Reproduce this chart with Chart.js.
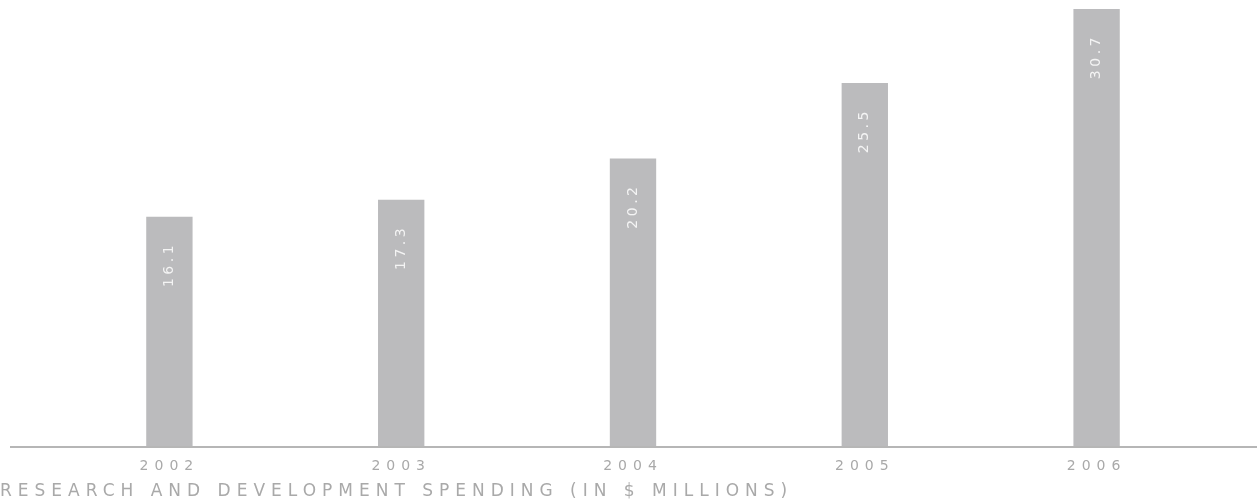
<!DOCTYPE html>
<html>
<head>
<meta charset="utf-8">
<script src="https://cdn.jsdelivr.net/npm/chart.js@4/dist/chart.umd.min.js"></script>
<style>
    html, body { margin: 0; padding: 0; background: #fff; }
    #wrap { width: 1259px; height: 504px; position: relative; }
</style>
</head>
<body>
<div id="wrap"><canvas id="rdChart"></canvas></div>
<script>
// Gastos em I&D por ano (milhões de $)
const years = ['2002', '2003', '2004', '2005', '2006'];
const spending = [16.1, 17.3, 20.2, 25.5, 30.7];
const chartTitle = 'RESEARCH AND DEVELOPMENT SPENDING (IN $ MILLIONS)';

const barColor = '#bbbbbd';
const textColor = '#a9a9a9';

// Espaçamento entre letras para todo o texto do canvas
const spacingPlugin = {
    id: 'spacing',
    beforeDraw(chart) {
        chart.ctx.letterSpacing = '6px';
    }
};

// Linha de base que atravessa quase toda a largura
const baselinePlugin = {
    id: 'baseline',
    afterDatasetsDraw(chart) {
        const ctx = chart.ctx;
        const y = chart.scales.y.getPixelForValue(0);
        ctx.save();
        ctx.strokeStyle = '#b6b6b6';
        ctx.lineWidth = 2;
        ctx.beginPath();
        ctx.moveTo(10, y + 1);
        ctx.lineTo(1257, y + 1);
        ctx.stroke();
        ctx.restore();
    }
};

// Valores escritos na vertical dentro de cada barra
const valueLabels = {
    id: 'valueLabels',
    afterDatasetsDraw(chart) {
        const ctx = chart.ctx;
        const meta = chart.getDatasetMeta(0);
        ctx.save();
        ctx.letterSpacing = '3.5px';
        ctx.fillStyle = '#f4f4f4';
        ctx.font = '14px "DejaVu Sans"';
        ctx.textAlign = 'right';
        ctx.textBaseline = 'middle';
        meta.data.forEach((bar, i) => {
            ctx.save();
            ctx.translate(bar.x, bar.y + 25);
            ctx.rotate(-Math.PI / 2);
            ctx.fillText(spending[i].toFixed(1), 0, 0);
            ctx.restore();
        });
        ctx.restore();
    }
};

new Chart(document.getElementById('rdChart'), {
    type: 'bar',
    data: {
        labels: years,
        datasets: [{
            data: spending,
            backgroundColor: barColor,
            barPercentage: 0.2,
            categoryPercentage: 1
        }]
    },
    options: {
        responsive: true,
        maintainAspectRatio: false,
        animation: false,
        layout: { padding: { top: 9, right: 46.5, bottom: 0, left: 0 } },
        plugins: {
            legend: { display: false },
            tooltip: { enabled: false },
            title: {
                display: true,
                text: chartTitle,
                position: 'bottom',
                align: 'start',
                color: textColor,
                font: { family: '"DejaVu Sans"', size: 17, weight: 'normal' },
                padding: { top: 7.5, bottom: 2 }
            }
        },
        scales: {
            x: {
                grid: { display: false, drawTicks: false },
                border: { display: false },
                ticks: {
                    color: textColor,
                    padding: 12,
                    font: { family: '"DejaVu Sans"', size: 14 }
                },
                afterFit(scale) { scale.height = 28; }
            },
            y: {
                min: 0,
                max: 30.7,
                grid: { display: false, drawTicks: false },
                border: { display: false },
                ticks: { display: false },
                afterFit(scale) { scale.width = 53.5; }
            }
        }
    },
    plugins: [spacingPlugin, baselinePlugin, valueLabels]
});
</script>
</body>
</html>
